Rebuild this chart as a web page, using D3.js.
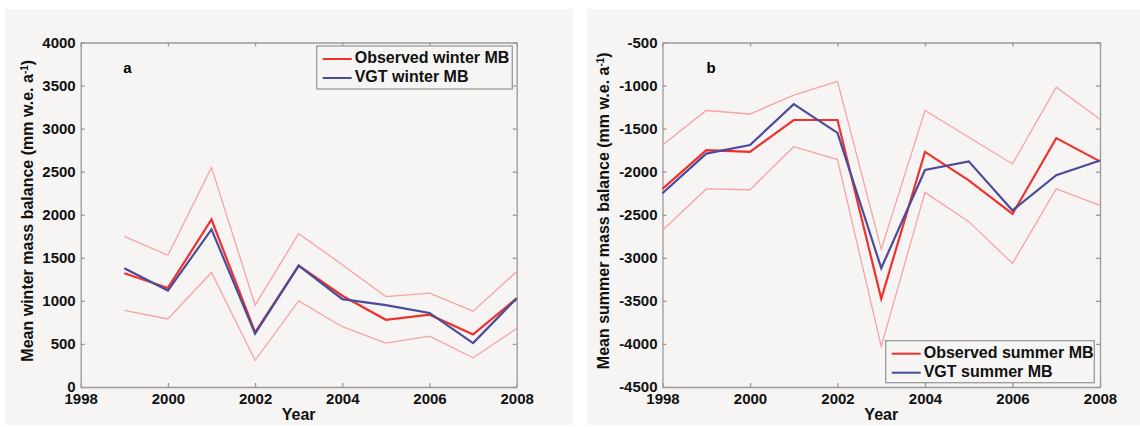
<!DOCTYPE html>
<html>
<head>
<meta charset="utf-8">
<script src="https://cdn.jsdelivr.net/npm/d3@7"></script>
<style>
  html,body{margin:0;padding:0;background:#fff;}
  svg{display:block;font-family:"Liberation Sans",Arial,sans-serif;}
  .tick text{font-weight:bold;font-size:15px;fill:#111;}
</style>
</head>
<body>
<svg id="chart" width="1140" height="427"></svg>
<script>
// --- data ---
const winterYears = [1999,2000,2001,2002,2003,2004,2005,2006,2007,2008];
const winterObs   = [1320,1150,1945,635,1410,1060,780,840,610,1030];
const winterVgt   = [1380,1120,1830,620,1410,1020,950,860,510,1030];
const winterUpper = [1750,1530,2550,950,1780,1420,1050,1090,880,1340];
const winterLower = [890,790,1330,310,1000,700,510,590,340,680];

const summerYears = [1998,1999,2000,2001,2002,2003,2004,2005,2006,2007,2008];
const summerObs   = [-2200,-1750,-1770,-1400,-1400,-3475,-1770,-2100,-2490,-1610,-1880];
const summerVgt   = [-2250,-1790,-1690,-1215,-1550,-3120,-1980,-1880,-2450,-2040,-1870];
const summerUpper = [-1690,-1290,-1330,-1110,-950,-2900,-1290,-1600,-1910,-1020,-1390];
const summerLower = [-2680,-2200,-2210,-1710,-1860,-4030,-2240,-2580,-3065,-2200,-2390];

const xTicks = [1998,2000,2002,2004,2006,2008];
const winterTicks = d3.range(0,4001,500);
const summerTicks = d3.range(-4500,-499,500);

const RED='#f0302c', BLUE='#4b4b9c', PINK='#f7a3a3', AXIS='#9a9a9a', PANEL='#f6f5f4';
const plain = d => String(d); // keep ascii hyphen for negatives

const svg = d3.select('#chart');

function drawPanel(p){
  svg.append('rect').attr('x',p.bg[0]).attr('y',9).attr('width',p.bg[1]-p.bg[0]).attr('height',416).attr('fill',PANEL);
  const g = svg.append('g');
  const x = d3.scaleLinear().domain([1998,2008]).range([p.left,p.right]);
  const y = d3.scaleLinear().domain(p.yDomain).range([387,42.5]);

  // axes with inward ticks, mirrored on top/right
  const ax = (sel)=>sel.selectAll('.domain,.tick line').attr('stroke',AXIS).attr('stroke-width',1.3);
  g.append('g').attr('transform','translate(0,387)')
    .call(d3.axisBottom(x).tickValues(xTicks).tickFormat(plain).tickSizeInner(-4).tickSizeOuter(0).tickPadding(6))
    .call(ax).call(s=>s.selectAll('text').attr('dy','0.75em'));
  g.append('g').attr('transform','translate(0,42.5)')
    .call(d3.axisTop(x).tickValues(xTicks).tickFormat('').tickSizeInner(-4).tickSizeOuter(0)).call(ax);
  g.append('g').attr('transform',`translate(${p.left},0)`)
    .call(d3.axisLeft(y).tickValues(p.yTicks).tickFormat(plain).tickSizeInner(-4).tickSizeOuter(0).tickPadding(5))
    .call(ax).call(s=>s.selectAll('text').attr('dy','0.3em'));
  g.append('g').attr('transform',`translate(${p.right},0)`)
    .call(d3.axisRight(y).tickValues(p.yTicks).tickFormat('').tickSizeInner(-4).tickSizeOuter(0)).call(ax);
  g.selectAll('.tick text').attr('fill','#111');

  const line = (xs)=>d3.line().x((d,i)=>x(xs[i])).y(d=>y(d));
  const series = [
    {v:p.upper,c:PINK,w:1.3},{v:p.lower,c:PINK,w:1.3},
    {v:p.obs,c:RED,w:2.2},{v:p.vgt,c:BLUE,w:2.2}
  ];
  series.forEach(s=>{
    g.append('path').datum(s.v).attr('d',line(p.years)).attr('fill','none')
      .attr('stroke',s.c).attr('stroke-width',s.w).attr('stroke-linejoin','miter');
  });

  // panel letter
  g.append('text').attr('x',p.letter[0]).attr('y',p.letter[1]).attr('font-weight','bold')
    .attr('font-size',15).attr('text-anchor','middle').attr('dominant-baseline','middle').text(p.letterText);

  // axis titles
  g.append('text').attr('x',(p.left+p.right)/2).attr('y',416).attr('text-anchor','middle')
    .attr('dominant-baseline','middle').attr('font-weight','bold').attr('font-size',16).attr('fill','#111').text('Year');
  const yl = g.append('text').attr('transform',`translate(${p.yLabelX},${(42.5+387)/2 - 4}) rotate(-90)`)
    .attr('text-anchor','middle').attr('font-weight','bold').attr('font-size',16).attr('fill','#111');
  yl.append('tspan').text(p.yLabel+' (mm w.e. a');
  yl.append('tspan').attr('font-size',10).attr('baseline-shift','super').text('-1');
  yl.append('tspan').text(')');

  // legend
  const L = p.legend;
  g.append('rect').attr('x',L.x).attr('y',L.y).attr('width',L.w).attr('height',L.h)
    .attr('fill',PANEL).attr('stroke',AXIS).attr('stroke-width',1.3);
  L.items.forEach((it,i)=>{
    const cy = L.y + 13 + i*19;
    g.append('line').attr('x1',L.x+6).attr('x2',L.x+35).attr('y1',cy).attr('y2',cy)
      .attr('stroke',it.c).attr('stroke-width',2);
    g.append('text').attr('x',L.x+38).attr('y',cy).attr('dominant-baseline','middle')
      .attr('font-weight','bold').attr('font-size',16).attr('fill','#111').text(it.t);
  });
}

drawPanel({
  bg:[5,573], left:80.7, right:516.7, yDomain:[0,4000], yTicks:winterTicks,
  years:winterYears, obs:winterObs, vgt:winterVgt, upper:winterUpper, lower:winterLower,
  letter:[127.5,69], letterText:'a', yLabelX:33, yLabel:'Mean winter mass balance',
  legend:{x:316.7,y:46,w:195.6,h:43,items:[{t:'Observed winter MB',c:RED},{t:'VGT winter MB',c:BLUE}]}
});
drawPanel({
  bg:[587,1140], left:662.5, right:1100, yDomain:[-4500,-500], yTicks:summerTicks,
  years:summerYears, obs:summerObs, vgt:summerVgt, upper:summerUpper, lower:summerLower,
  letter:[711,69], letterText:'b', yLabelX:609, yLabel:'Mean summer mass balance',
  legend:{x:885.7,y:340.7,w:208.6,h:42,items:[{t:'Observed summer MB',c:RED},{t:'VGT summer MB',c:BLUE}]}
});
</script>
</body>
</html>
